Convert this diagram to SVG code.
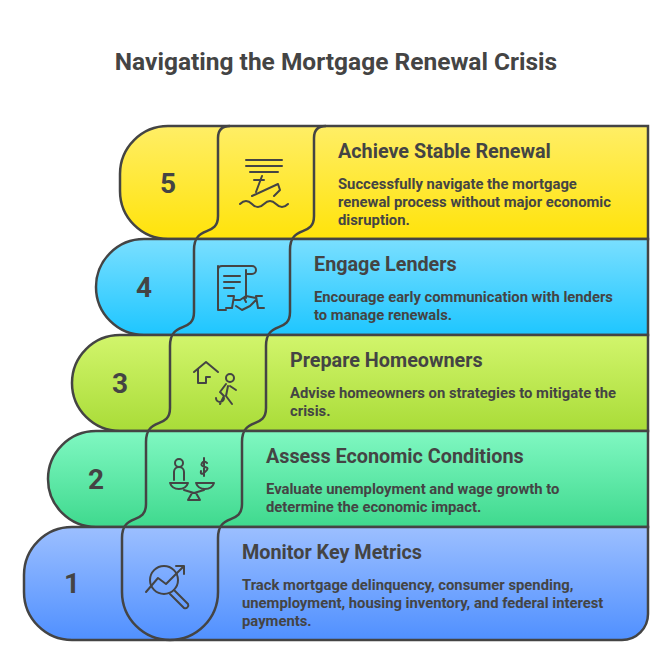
<svg xmlns="http://www.w3.org/2000/svg" width="672" height="650" viewBox="0 0 672 650">
<style>
.row{stroke:#444;stroke-width:2.5}
.div{fill:none;stroke:#444;stroke-width:2.5}
.ic{fill:none;stroke:#444;stroke-width:2;stroke-linecap:round;stroke-linejoin:round}
.t{font-family:Roboto,"Liberation Sans",sans-serif;fill:#444;font-weight:bold}
.num{font-size:28px;text-anchor:middle}
.h{font-size:19.8px}
.d{font-size:14.8px}
</style>
<defs>
<linearGradient id="g5" x1="0" y1="0" x2="0" y2="1"><stop offset="0" stop-color="#FFEE66"/><stop offset="1" stop-color="#FFE30A"/></linearGradient>
<linearGradient id="g4" x1="0" y1="0" x2="0" y2="1"><stop offset="0" stop-color="#7ADFFF"/><stop offset="1" stop-color="#1EC6FF"/></linearGradient>
<linearGradient id="g3" x1="0" y1="0" x2="0" y2="1"><stop offset="0" stop-color="#D2F56C"/><stop offset="1" stop-color="#A9DC38"/></linearGradient>
<linearGradient id="g2" x1="0" y1="0" x2="0" y2="1"><stop offset="0" stop-color="#80F8C2"/><stop offset="1" stop-color="#3FD98E"/></linearGradient>
<linearGradient id="g1" x1="0" y1="0" x2="0" y2="1"><stop offset="0" stop-color="#9CBFFF"/><stop offset="1" stop-color="#5090FF"/></linearGradient>
</defs>
<rect width="672" height="650" fill="#fff"/>
<text class="t" x="336" y="70" font-size="24.5" text-anchor="middle">Navigating the Mortgage Renewal Crisis</text>

<g id="row5"><path class="row" fill="url(#g5)" d="M648 126 V239 H168 A48 48 0 0 1 120 191 V174 A48 48 0 0 1 168 126 Z"/>
<text class="t num" x="168" y="193">5</text>
<text class="t h" x="338" y="158">Achieve Stable Renewal</text>
<text class="t d" x="338" y="189">Successfully navigate the mortgage</text>
<text class="t d" x="338" y="207">renewal process without major economic</text>
<text class="t d" x="338" y="225">disruption.</text>
<g class="ic"><path d="M246 160h36M246 166h36M250 172h28"/><path d="M262 176l-6 16M254 180h10M252 196l26-12 2 6-6 6"/><path d="M240 204q6-6 12 0t12 0 12 0 12 0"/></g>
</g>
<g id="row4"><path class="row" fill="url(#g4)" d="M648 239 V335 H144 A48 48 0 0 1 96 287 A48 48 0 0 1 144 239 Z"/>
<text class="t num" x="144" y="297">4</text>
<text class="t h" x="314" y="271">Engage Lenders</text>
<text class="t d" x="314" y="302">Encourage early communication with lenders</text>
<text class="t d" x="314" y="320">to manage renewals.</text>
<g class="ic"><path d="M218 266v44h8M222 266h30a4 4 0 0 1 0 8h-6M222 266q-4 0-4 4M246 270v28M224 276h16M224 282h16M224 288h10"/><path d="M228 296h6l-2 12h-6M262 296h-6l2 12h6M234 300h6l6-4 10 2M236 306l6 4 8-4 6-6M244 298l2 4"/></g>
</g>
<g id="row3"><path class="row" fill="url(#g3)" d="M648 335 V431 H120 A48 48 0 0 1 72 383 A48 48 0 0 1 120 335 Z"/>
<text class="t num" x="120" y="393">3</text>
<text class="t h" x="290" y="367">Prepare Homeowners</text>
<text class="t d" x="290" y="398">Advise homeowners on strategies to mitigate the</text>
<text class="t d" x="290" y="416">crisis.</text>
<g class="ic"><path d="M194 372l12-10 12 10M198 369v14h8v-6h4"/><circle cx="230" cy="378" r="4"/><path d="M226 384l-6 8 4 4-4 8M228 386l-2 10 6 8M230 386l6 4M216 398a4 4 0 1 0 8 0"/></g>
</g>
<g id="row2"><path class="row" fill="url(#g2)" d="M648 431 V527 H96 A48 48 0 0 1 48 479 A48 48 0 0 1 96 431 Z"/>
<text class="t num" x="96" y="489">2</text>
<text class="t h" x="266" y="463">Assess Economic Conditions</text>
<text class="t d" x="266" y="494">Evaluate unemployment and wage growth to</text>
<text class="t d" x="266" y="512">determine the economic impact.</text>
<g class="ic"><circle cx="179" cy="463" r="4"/><path d="M174 480v-8a5 5 0 0 1 10 0v8M170 483h18q-2 6-9 6t-9-6M196 483h18q-2 6-9 6t-9-6M184 490l10 3 10-3M188 500l4-7h4l4 7z"/><path d="M207 463q-3-3-5 0t3 4 0 5-4-1M204 458v18"/></g>
</g>
<g id="row1"><path class="row" fill="url(#g1)" d="M648 527 V614 A26 26 0 0 1 622 640 H72 A48 48 0 0 1 24 592 V575 A48 48 0 0 1 72 527 Z"/>
<text class="t num" x="72" y="593">1</text>
<text class="t h" x="242" y="559">Monitor Key Metrics</text>
<text class="t d" x="242" y="590">Track mortgage delinquency, consumer spending,</text>
<text class="t d" x="242" y="608">unemployment, housing inventory, and federal interest</text>
<text class="t d" x="242" y="626">payments.</text>
<g class="ic"><circle cx="164" cy="580" r="14"/><path d="M146 592l12-14 8 6 18-18M176 566h8v8M174 590l14 14a3 3 0 0 1-4 4l-14-14"/></g>
</g>

<g id="connectors">
<path class="div" d="M230 126 Q218 126 218 138 V216 C218 238 194 224 194 250 V312 C194 334 170 320 170 346 V408 C170 430 146 416 146 442 V504 C146 526 122 512 122 538 V592 A48 48 0 0 0 170 640 A48 48 0 0 0 218 592 V538 C218 512 242 526 242 504 V442 C242 416 266 430 266 408 V346 C266 320 290 334 290 312 V250 C290 224 314 238 314 216 V138 Q314 126 326 126"/>
</g>
</svg>
